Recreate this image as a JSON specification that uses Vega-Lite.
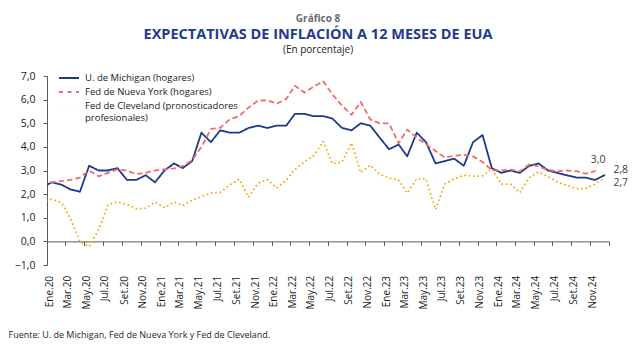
{
  "$schema": "https://vega.github.io/schema/vega-lite/v6.json",
  "background": "white",
  "padding": {"left": 8, "top": 13, "right": 5, "bottom": 5},
  "config": {
    "font": "Open Sans",
    "view": {"stroke": null},
    "locale": {"number": {"decimal": ",", "thousands": ".", "grouping": [3], "currency": ["", " €"]}},
    "axis": {"grid": false, "domainColor": "#595959", "tickColor": "#595959", "labelColor": "#1a1a1a", "labelFontSize": 10, "labelFont": "Open Sans", "labelOverlap": false},
    "axisY": {"labelOverlap": false, "labelFontSize": 10.5}
  },
  "title": {
    "text": "Gráfico 8",
    "subtitle": "EXPECTATIVAS DE INFLACIÓN A 12 MESES DE EUA",
    "anchor": "middle",
    "frame": "bounds",
    "font": "Open Sans",
    "fontSize": 10,
    "fontWeight": "bold",
    "color": "#6b6b6b",
    "subtitleFont": "Open Sans",
    "subtitleFontSize": 14.5,
    "subtitleFontWeight": "bold",
    "subtitleColor": "#1f3a8f",
    "subtitlePadding": 4,
    "offset": 4
  },
  "datasets": {
    "series": [
      {"d": "2019-12-17", "M": 2.3, "N": 2.5, "C": 1.7},
      {"d": "2020-01-17", "M": 2.5, "N": 2.5, "C": 1.78},
      {"d": "2020-02-17", "M": 2.4, "N": 2.55, "C": 1.64},
      {"d": "2020-03-17", "M": 2.2, "N": 2.6, "C": 0.98},
      {"d": "2020-04-17", "M": 2.1, "N": 2.7, "C": -0.02},
      {"d": "2020-05-17", "M": 3.2, "N": 3.0, "C": -0.22},
      {"d": "2020-06-17", "M": 3.0, "N": 2.75, "C": 0.5},
      {"d": "2020-07-17", "M": 3.0, "N": 2.9, "C": 1.55},
      {"d": "2020-08-17", "M": 3.1, "N": 3.05, "C": 1.67},
      {"d": "2020-09-17", "M": 2.6, "N": 3.0, "C": 1.57},
      {"d": "2020-10-17", "M": 2.6, "N": 2.85, "C": 1.39},
      {"d": "2020-11-17", "M": 2.8, "N": 2.9, "C": 1.4},
      {"d": "2020-12-17", "M": 2.5, "N": 3.0, "C": 1.66},
      {"d": "2021-01-17", "M": 3.0, "N": 3.05, "C": 1.43},
      {"d": "2021-02-17", "M": 3.3, "N": 3.09, "C": 1.67},
      {"d": "2021-03-17", "M": 3.1, "N": 3.18, "C": 1.52},
      {"d": "2021-04-17", "M": 3.4, "N": 3.44, "C": 1.75},
      {"d": "2021-05-17", "M": 4.6, "N": 4.0, "C": 1.9},
      {"d": "2021-06-17", "M": 4.2, "N": 4.76, "C": 2.05},
      {"d": "2021-07-17", "M": 4.7, "N": 4.81, "C": 2.07},
      {"d": "2021-08-17", "M": 4.6, "N": 5.16, "C": 2.39},
      {"d": "2021-09-17", "M": 4.6, "N": 5.31, "C": 2.63},
      {"d": "2021-10-17", "M": 4.8, "N": 5.66, "C": 1.87},
      {"d": "2021-11-17", "M": 4.9, "N": 5.96, "C": 2.46},
      {"d": "2021-12-17", "M": 4.8, "N": 5.97, "C": 2.62},
      {"d": "2022-01-17", "M": 4.9, "N": 5.83, "C": 2.26},
      {"d": "2022-02-17", "M": 4.9, "N": 6.03, "C": 2.6},
      {"d": "2022-03-17", "M": 5.4, "N": 6.59, "C": 3.05},
      {"d": "2022-04-17", "M": 5.4, "N": 6.3, "C": 3.37},
      {"d": "2022-05-17", "M": 5.3, "N": 6.55, "C": 3.63},
      {"d": "2022-06-17", "M": 5.3, "N": 6.78, "C": 4.23},
      {"d": "2022-07-17", "M": 5.2, "N": 6.22, "C": 3.28},
      {"d": "2022-08-17", "M": 4.8, "N": 5.75, "C": 3.36},
      {"d": "2022-09-17", "M": 4.7, "N": 5.36, "C": 4.17},
      {"d": "2022-10-17", "M": 5.0, "N": 5.9, "C": 2.91},
      {"d": "2022-11-17", "M": 4.9, "N": 5.16, "C": 3.23},
      {"d": "2022-12-17", "M": 4.4, "N": 5.0, "C": 2.84},
      {"d": "2023-01-17", "M": 3.9, "N": 4.99, "C": 2.68},
      {"d": "2023-02-17", "M": 4.1, "N": 4.15, "C": 2.6},
      {"d": "2023-03-17", "M": 3.6, "N": 4.73, "C": 2.04},
      {"d": "2023-04-17", "M": 4.6, "N": 4.39, "C": 2.65},
      {"d": "2023-05-17", "M": 4.2, "N": 4.11, "C": 2.64},
      {"d": "2023-06-17", "M": 3.3, "N": 3.83, "C": 1.35},
      {"d": "2023-07-17", "M": 3.4, "N": 3.55, "C": 2.43},
      {"d": "2023-08-17", "M": 3.5, "N": 3.62, "C": 2.65},
      {"d": "2023-09-17", "M": 3.2, "N": 3.67, "C": 2.8},
      {"d": "2023-10-17", "M": 4.2, "N": 3.6, "C": 2.76},
      {"d": "2023-11-17", "M": 4.5, "N": 3.36, "C": 2.77},
      {"d": "2023-12-17", "M": 3.1, "N": 3.01, "C": 3.08},
      {"d": "2024-01-17", "M": 2.9, "N": 3.0, "C": 2.42},
      {"d": "2024-02-17", "M": 3.0, "N": 3.04, "C": 2.42},
      {"d": "2024-03-17", "M": 2.9, "N": 2.96, "C": 2.06},
      {"d": "2024-04-17", "M": 3.2, "N": 3.26, "C": 2.7},
      {"d": "2024-05-17", "M": 3.3, "N": 3.17, "C": 2.94},
      {"d": "2024-06-17", "M": 3.0, "N": 3.02, "C": 2.74},
      {"d": "2024-07-17", "M": 2.9, "N": 2.97, "C": 2.51},
      {"d": "2024-08-17", "M": 2.8, "N": 3.0, "C": 2.37},
      {"d": "2024-09-17", "M": 2.7, "N": 2.97, "C": 2.23},
      {"d": "2024-10-17", "M": 2.7, "N": 2.87, "C": 2.24},
      {"d": "2024-11-17", "M": 2.6, "N": 2.97, "C": 2.42},
      {"d": "2024-12-17", "M": 2.8, "N": null, "C": 2.68}
    ],
    "ends": [
      {"d": "2024-11-17", "s": "N", "v": 2.97},
      {"d": "2024-12-17", "s": "M", "v": 2.8},
      {"d": "2024-12-17", "s": "C", "v": 2.68}
    ]
  },
  "vconcat": [
    {
      "width": 562,
      "height": 189,
      "title": {"text": "(En porcentaje)", "font": "Open Sans", "fontSize": 10, "fontWeight": "normal", "color": "#1a1a1a", "anchor": "middle", "frame": "bounds", "offset": 16},
      "layer": [
        {
          "data": {"name": "series"},
          "transform": [{"fold": ["M", "N", "C"], "as": ["s", "v"]}],
          "mark": {"type": "line", "clip": true, "strokeCap": "round", "strokeJoin": "round"},
          "encoding": {
            "x": {
              "field": "d",
              "type": "temporal",
              "scale": {"type": "utc", "nice": false, "domain": [{"year": 2020, "month": 1, "date": 1, "utc": true}, {"year": 2025, "month": 1, "date": 1, "utc": true}]},
              "axis": {
                "orient": "bottom",
                "offset": -23.6,
                "tickCount": {"interval": "month", "step": 2},
                "labelExpr": "utcyear(datum.value) > 2024 ? '' : ['Ene','Feb','Mar','Abr','May','Jun','Jul','Ago','Set','Oct','Nov','Dic'][utcmonth(datum.value)] + '.' + utcFormat(datum.value, '%y')",
                "labelAngle": 270,
                "labelAlign": "right",
                "labelBaseline": "middle",
                "labelPadding": 30,
                "labelOffset": 2,
                "labelOverlap": false,
                "labelFlush": false,
                "labelBound": false,
                "tickSize": 4,
                "title": "Fuente: U. de Michigan, Fed de Nueva York y Fed de Cleveland.",
                "titleAnchor": "start",
                "titleAlign": "left",
                "titleX": -39,
                "titleFont": "Open Sans",
                "titleFontSize": 9,
                "titleFontWeight": "normal",
                "titleColor": "#262626",
                "titlePadding": 21
              }
            },
            "y": {
              "field": "v",
              "type": "quantitative",
              "scale": {"domain": [-1, 7], "nice": false, "zero": false},
              "axis": {"values": [-1, 0, 1, 2, 3, 4, 5, 6, 7], "format": ".1f", "title": null, "tickSize": 4, "labelPadding": 8, "labelFlush": false, "labelOverlap": false, "labelSeparation": 0}
            },
            "color": {
              "field": "s",
              "type": "nominal",
              "scale": {"domain": ["M", "N", "C"], "range": ["#1f3a8a", "#f26b6b", "#f7a400"]},
              "legend": {
                "title": null,
                "orient": "none",
                "legendX": 16,
                "legendY": -4,
                "symbolType": "M-2,0H2",
                "symbolSize": 100,
                "labelFont": "Open Sans",
                "labelFontSize": 9.5,
                "labelColor": "#1a1a1a",
                "labelOffset": 10,
                "rowPadding": 3,
                "labelLimit": 300,
                "labelExpr": "datum.label == 'M' ? 'U. de Michigan (hogares)' : datum.label == 'N' ? 'Fed de Nueva York (hogares)' : ['Fed de Cleveland (pronosticadores', 'profesionales)']"
              }
            },
            "strokeDash": {"field": "s", "type": "nominal", "scale": {"domain": ["M", "N", "C"], "range": [[1, 0], [4, 4.5], [0.1, 4.3]]}},
            "strokeWidth": {"field": "s", "type": "nominal", "scale": {"domain": ["M", "N", "C"], "range": [1.8, 1.8, 3.2]}}
          }
        },
        {
          "data": {"name": "ends"},
          "transform": [{"filter": "datum.s == 'N'"}],
          "mark": {"type": "text", "dy": -11, "dx": 3, "align": "center", "font": "Open Sans", "fontSize": 10.5, "color": "#404040"},
          "encoding": {
            "x": {"field": "d", "type": "temporal"},
            "y": {"field": "v", "type": "quantitative", "axis": {"values": [-1, 0, 1, 2, 3, 4, 5, 6, 7], "format": ".1f", "title": null, "tickSize": 4, "labelPadding": 8, "labelFlush": false, "labelOverlap": false, "labelSeparation": 0}},
            "text": {"field": "v", "type": "quantitative", "format": ".1f"}
          }
        },
        {
          "data": {"name": "ends"},
          "transform": [{"filter": "datum.s == 'M'"}],
          "mark": {"type": "text", "dy": -5, "dx": 9, "align": "left", "font": "Open Sans", "fontSize": 10.5, "color": "#404040"},
          "encoding": {
            "x": {"field": "d", "type": "temporal"},
            "y": {"field": "v", "type": "quantitative", "axis": {"values": [-1, 0, 1, 2, 3, 4, 5, 6, 7], "format": ".1f", "title": null, "tickSize": 4, "labelPadding": 8, "labelFlush": false, "labelOverlap": false, "labelSeparation": 0}},
            "text": {"field": "v", "type": "quantitative", "format": ".1f"}
          }
        },
        {
          "data": {"name": "ends"},
          "transform": [{"filter": "datum.s == 'C'"}],
          "mark": {"type": "text", "dy": 5, "dx": 9, "align": "left", "font": "Open Sans", "fontSize": 10.5, "color": "#404040"},
          "encoding": {
            "x": {"field": "d", "type": "temporal"},
            "y": {"field": "v", "type": "quantitative", "axis": {"values": [-1, 0, 1, 2, 3, 4, 5, 6, 7], "format": ".1f", "title": null, "tickSize": 4, "labelPadding": 8, "labelFlush": false, "labelOverlap": false, "labelSeparation": 0}},
            "text": {"field": "v", "type": "quantitative", "format": ".1f"}
          }
        }
      ]
    }
  ]
}
